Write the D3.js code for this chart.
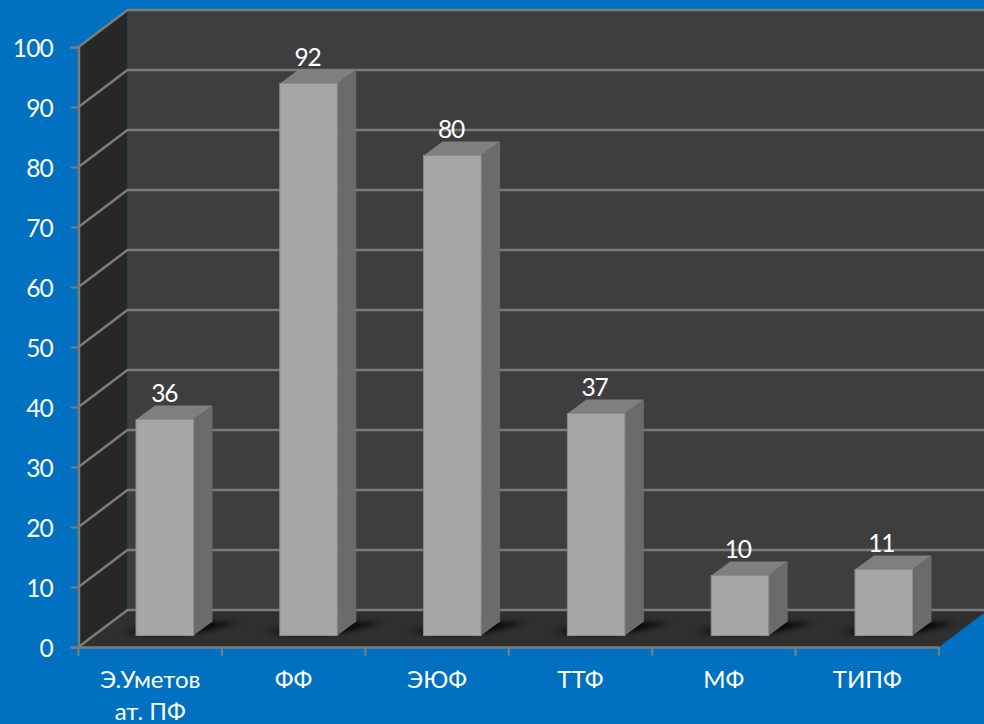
<!DOCTYPE html>
<html>
<head>
<meta charset="utf-8">
<script src="https://d3js.org/d3.v7.min.js"></script>
<style>
html, body { margin: 0; padding: 0; background: #0070c0; overflow: hidden; }
text { font-family: Lato, "Open Sans", sans-serif; fill: #fff; }
</style>
</head>
<body>
<script>
var categories = ['Э.Уметов\nат. ПФ', 'ФФ', 'ЭЮФ', 'ТТФ', 'МФ', 'ТИПФ'];
var values = [36, 92, 80, 37, 10, 11];
var yTicks = [0, 10, 20, 30, 40, 50, 60, 70, 80, 90, 100];

var width = 984;
var height = 724;

// depth of the 3d box, and where the bars sit inside it
var depth = { x: 49, y: -37 };
var barLift = -11.5;
var barDepth = { x: 19, y: -14 };
var barWidth = 57.5;

var svg = d3
	.select('body')
	.append('svg')
	.attr('width', width)
	.attr('height', height)
	.style('display', 'block');

var x = d3.scaleBand().domain(categories).range([ 78.5, 939 ]);
var y = d3.scaleLinear().domain([ 0, 100 ]).range([ 647, 47 ]);
// left edge of each bar
var barX = d3.scalePoint().domain(categories).range([ 136, 855 ]);

var x0 = x.range()[0];
var x1 = x.range()[1];

function poly(points) {
	return 'M' + points.join('L') + 'Z';
}

var defs = svg.append('defs');
defs.append('filter').attr('id', 'soft').attr('x', '-50%').attr('y', '-100%').attr('width', '200%').attr('height', '300%')
	.append('feGaussianBlur').attr('stdDeviation', '8 2.5');

// Walls and floor
svg.append('path').attr('fill', '#3e3e3e').attr('d', poly([
	[ x0 + depth.x, y(100) + depth.y ],
	[ x1 + depth.x, y(100) + depth.y ],
	[ x1 + depth.x, y(0) + depth.y ],
	[ x0 + depth.x, y(0) + depth.y ]
]));
svg.append('path').attr('fill', '#272727').attr('d', poly([
	[ x0, y(100) ],
	[ x0 + depth.x, y(100) + depth.y ],
	[ x0 + depth.x, y(0) + depth.y ],
	[ x0, y(0) ]
]));
svg.append('path').attr('fill', '#2f2f2f').attr('d', poly([
	[ x0, y(0) ],
	[ x1, y(0) ],
	[ x1 + depth.x, y(0) + depth.y ],
	[ x0 + depth.x, y(0) + depth.y ]
]));

// Grid lines along the left wall and the back wall
svg.append('g').selectAll('path').data(yTicks).enter().append('path')
	.attr('fill', 'none')
	.attr('stroke', '#7c7c7c')
	.attr('stroke-width', 2.5)
	.attr('d', function(d) {
		return 'M' + [ x0, y(d) ] + 'L' + [ x0 + depth.x, y(d) + depth.y ] + 'L' + [ x1 + depth.x, y(d) + depth.y ];
	});

// Bar shadows on the floor
svg.append('g').selectAll('path').data(values).enter().append('path')
	.attr('fill', '#000')
	.attr('filter', 'url(#soft)')
	.attr('d', function(d, i) {
		var left = barX(categories[i]);
		var base = y(0) + barLift - 2;
		return poly([
			[ left - 10, base ],
			[ left + barWidth, base ],
			[ left + barWidth + barDepth.x + 24, base + barDepth.y + 3 ],
			[ left + barDepth.x, base + barDepth.y + 3 ]
		]);
	});

// Bars
var bars = svg.append('g').selectAll('g').data(values).enter().append('g').attr('transform', function(d, i) {
	return 'translate(' + barX(categories[i]) + ', ' + barLift + ')';
});

bars.append('path').attr('fill', '#6b6b6b').attr('d', function(d) {
	return poly([
		[ barWidth, y(d) ],
		[ barWidth + barDepth.x, y(d) + barDepth.y ],
		[ barWidth + barDepth.x, y(0) + barDepth.y ],
		[ barWidth, y(0) ]
	]);
});
bars.append('path').attr('fill', '#7f7f7f').attr('d', function(d) {
	return poly([
		[ 0, y(d) ],
		[ barDepth.x, y(d) + barDepth.y ],
		[ barWidth + barDepth.x, y(d) + barDepth.y ],
		[ barWidth, y(d) ]
	]);
});
bars.append('rect')
	.attr('x', 0)
	.attr('y', function(d) { return y(d); })
	.attr('width', barWidth)
	.attr('height', function(d) { return y(0) - y(d); })
	.attr('fill', '#a6a6a6')
	.attr('stroke', '#8c8c8c')
	.attr('stroke-width', 1);

// Number on the bar
svg.append('g').selectAll('text').data(values).enter().append('text')
	.attr('x', function(d, i) { return x(categories[i]) + x.bandwidth() / 2 + 14; })
	.attr('y', function(d) { return y(d) + barLift - 18; })
	.attr('text-anchor', 'middle')
	.attr('font-size', '24.5px')
	.attr('letter-spacing', '-1.2px')
	.text(function(d) { return d; });

// Axes
var yAxisCall = d3.axisLeft(y).tickValues(yTicks).tickSize(8).tickPadding(17.5);
var yAxis = svg.append('g').attr('transform', 'translate(' + x0 + ', 0)').call(yAxisCall);

var xAxisCall = d3.axisBottom(x).tickSize(0).tickFormat('');
var xAxis = svg.append('g').attr('transform', 'translate(0, ' + y(0) + ')').call(xAxisCall);

[ yAxis, xAxis ].forEach(function(a) {
	a.selectAll('.domain').attr('stroke', '#7c7c7c').attr('stroke-width', 2.5);
	a.selectAll('line').attr('stroke', '#7c7c7c').attr('stroke-width', 2);
});
yAxis.selectAll('text')
	.attr('font-size', '24.5px')
	.attr('letter-spacing', '-0.8px')
	.attr('dy', '0.38em')
	.style('font-family', 'Lato, sans-serif')
	.style('fill', '#fff');

// Tick marks sit between the categories, not under them
svg.append('g').selectAll('line').data(d3.range(categories.length + 1)).enter().append('line')
	.attr('x1', function(i) { return x0 + i * x.step(); })
	.attr('x2', function(i) { return x0 + i * x.step(); })
	.attr('y1', y(0))
	.attr('y2', y(0) + 9)
	.attr('stroke', '#7c7c7c')
	.attr('stroke-width', 2);

// Category labels, the long one goes on two lines
var labels = svg.append('g').selectAll('text').data(categories).enter().append('text')
	.attr('text-anchor', 'middle')
	.attr('font-size', '24px');
labels.selectAll('tspan')
	.data(function(d) {
		return d.split('\n').map(function(line) { return { cat: d, line: line }; });
	})
	.enter()
	.append('tspan')
	.attr('x', function(d) { return x(d.cat) + x.bandwidth() / 2; })
	.attr('y', function(d, i) { return 688 + i * 32; })
	.text(function(d) { return d.line; });
</script>
</body>
</html>
